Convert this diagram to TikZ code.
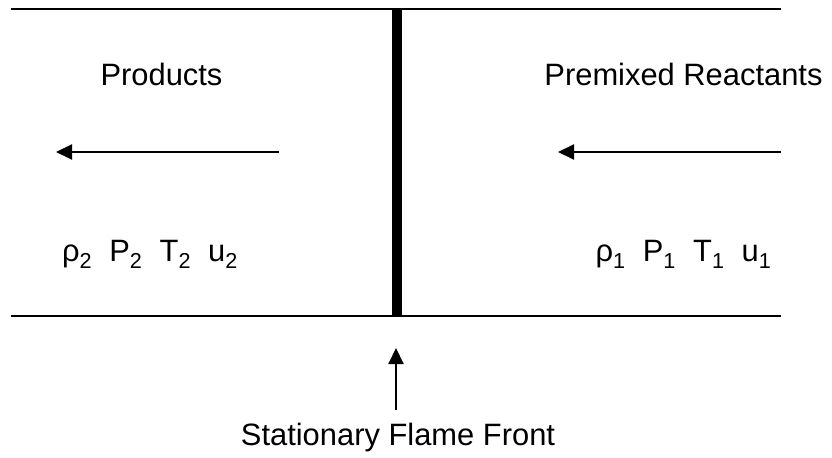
\documentclass[tikz,border=0pt]{standalone}
\usepackage{fontspec}
\setmainfont{Liberation Sans}
\usetikzlibrary{arrows.meta}
\tikzset{
  wall/.style={line width=2bp, black},
  flame/.style={line width=10bp, black},
  flow/.style={line width=2bp, -{Triangle[length=16bp,width=15bp]}},
  lbl/.style={inner sep=0pt, font=\fontsize{31}{37}\selectfont},
}
\newcommand{\sbs}[1]{\textsubscript{#1}}
\begin{document}
\begin{tikzpicture}[x=1bp,y=-1bp]
\useasboundingbox (0,0) rectangle (832,458);
% walls
\coordinate (tl) at (11,9.5);
\coordinate (tr) at (781,9.5);
\coordinate (bl) at (11,316.5);
\coordinate (br) at (781,316.5);
\draw[wall] (tl) -- (tr);
\draw[wall] (bl) -- (br);
% flame front
\coordinate (ft) at (396.5,10);
\coordinate (fb) at (396.5,316);
\draw[flame] (ft) -- (fb);
% labels
\node[lbl, anchor=base] (prod) at (161.5,86) {Products};
\node[lbl, anchor=base] (react) at (683.5,86) {Premixed Reactants};
\node[lbl, anchor=base] (sff) at (398,445) {Stationary Flame Front};
\node[lbl, anchor=base] (v2) at (150,262) {ρ\sbs{2}\ \ P\sbs{2}\ \ T\sbs{2}\ \ u\sbs{2}};
\node[lbl, anchor=base] (v1) at (683.5,262) {ρ\sbs{1}\ \ P\sbs{1}\ \ T\sbs{1}\ \ u\sbs{1}};
% flow arrows
\coordinate (la) at (279,152);
\coordinate (lb) at (56,152);
\coordinate (ra) at (781,152);
\coordinate (rb) at (558,152);
\draw[flow] (la) -- (lb);
\draw[flow] (ra) -- (rb);
% pointer to flame
\coordinate (pa) at (396,410);
\coordinate (pb) at (396,348);
\draw[flow] (pa) -- (pb);
\end{tikzpicture}
\end{document}
